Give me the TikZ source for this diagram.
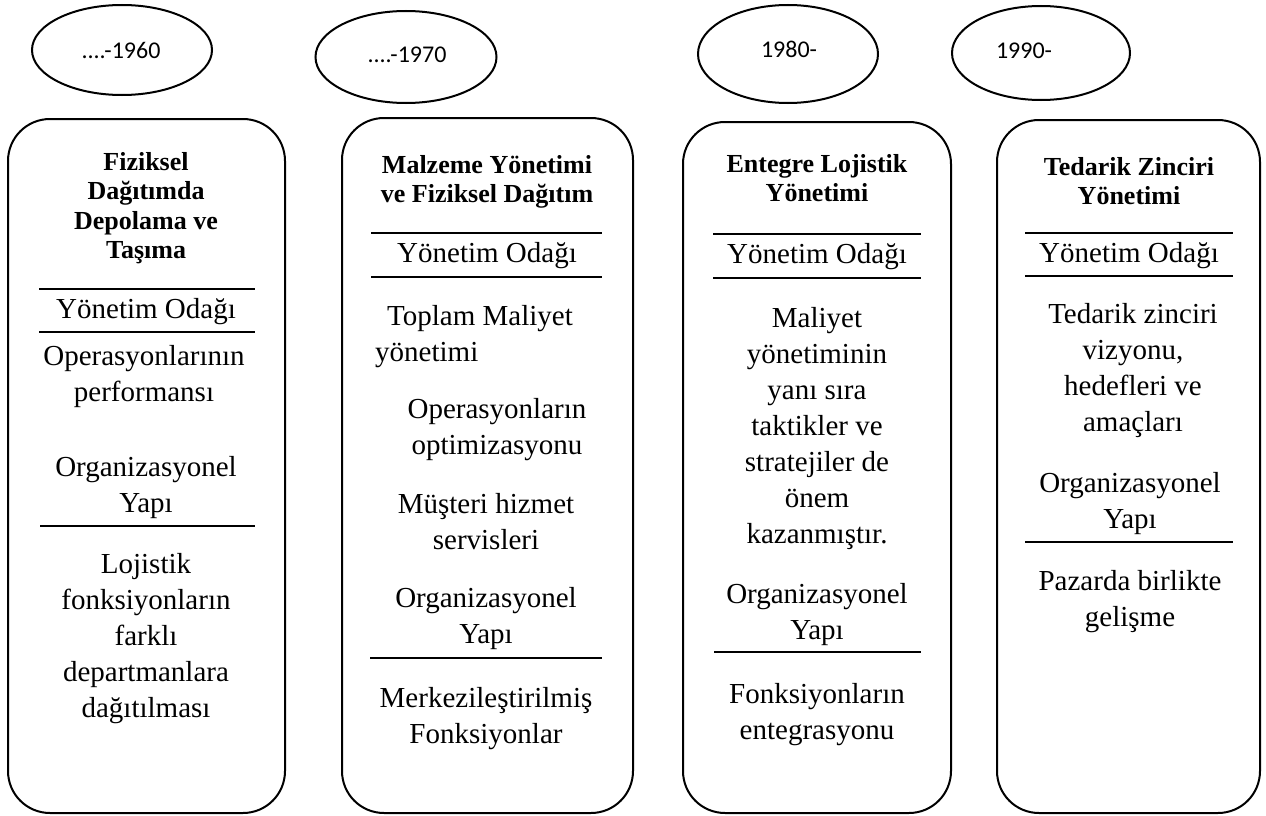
\documentclass[tikz,border=0pt]{standalone}
\usepackage{fontspec}
\setmainfont{Liberation Serif}
\newfontfamily\periodfont{Carlito}
\usetikzlibrary{shapes.geometric}
\begin{document}
\begin{tikzpicture}[x=1pt,y=-1pt,
  era/.style={ellipse, draw, line width=2pt, inner sep=0pt},
  eralabel/.style={inner sep=0pt, font=\periodfont\fontsize{24}{28}\selectfont},
  column/.style={draw, line width=2pt, rounded corners=42pt, inner sep=0pt},
  % multi-line nodes: the base anchor sits on the last line
  heading/.style={anchor=base, align=center, inner sep=0pt,
    font=\fontsize{26}{29.5}\selectfont\bfseries},
  body/.style={anchor=base, align=center, inner sep=0pt,
    font=\fontsize{29}{36}\selectfont},
  rule/.style={line width=2pt}]

\useasboundingbox[fill=white] (0,0) rectangle (1266,816);

% period ellipses
\node[era, minimum width=180pt, minimum height=90pt] (e1) at (122,50) {};
\node[era, minimum width=181pt, minimum height=92pt] (e2) at (406,57) {};
\node[era, minimum width=180pt, minimum height=98pt] (e3) at (788,54) {};
\node[era, minimum width=178pt, minimum height=94pt] (e4) at (1041,53) {};
\node[eralabel] (l1) at (121,50) {....-1960};
\node[eralabel] (l2) at (407,55) {....-1970};
\node[eralabel] (l3) at (789,49) {1980-};
\node[eralabel] (l4) at (1024,51) {1990-};

% column frames
\node[column, minimum width=277pt, minimum height=694pt] (c1) at (146.5,466) {};
\node[column, minimum width=291pt, minimum height=695pt] (c2) at (487.5,465.5) {};
\node[column, minimum width=268pt, minimum height=691pt] (c3) at (817,467.5) {};
\node[column, minimum width=263pt, minimum height=693pt] (c4) at (1128.5,466.5) {};

% column 1
\node[heading] (h1) at (146,258.5) {Fiziksel\\Dağıtımda\\Depolama ve\\Taşıma};
\draw[rule] (39,289) -- (255,289);
\node[body] (f1) at (146,318) {Yönetim Odağı};
\draw[rule] (39,332) -- (255,332);
\node[body] (a1) at (144,401) {Operasyonlarının\\performansı};
\node[body] (o1) at (146,512) {Organizasyonel\\Yapı};
\draw[rule] (40,526) -- (255,526);
\node[body] (s1) at (146,717) {Lojistik\\fonksiyonların\\farklı\\departmanlara\\dağıtılması};

% column 2
\node[heading] (h2) at (487,202.5) {Malzeme Yönetimi\\ve Fiziksel Dağıtım};
\draw[rule] (371,233) -- (602,233);
\node[body] (f2) at (487,262) {Yönetim Odağı};
\draw[rule] (371,277) -- (602,277);
\node[body, anchor=base west, align=left] (a2) at (375,361) {\hspace*{12pt}Toplam Maliyet\\yönetimi};
\node[body] (b2) at (497,454) {Operasyonların\\optimizasyonu};
\node[body] (m2) at (486,549) {Müşteri hizmet\\servisleri};
\node[body] (o2) at (486,643) {Organizasyonel\\Yapı};
\draw[rule] (370,658) -- (602,658);
\node[body] (s2) at (486,743) {Merkezileştirilmiş\\Fonksiyonlar};

% column 3
\node[heading] (h3) at (817,201.5) {Entegre Lojistik\\Yönetimi};
\draw[rule] (713,234) -- (921,234);
\node[body] (f3) at (817,263) {Yönetim Odağı};
\draw[rule] (713,278) -- (921,278);
\node[body] (a3) at (817,543) {Maliyet\\yönetiminin\\yanı sıra\\taktikler ve\\stratejiler de\\önem\\kazanmıştır.};
\node[body] (o3) at (817,639) {Organizasyonel\\Yapı};
\draw[rule] (714,652) -- (921,652);
\node[body] (s3) at (817,739) {Fonksiyonların\\entegrasyonu};

% column 4
\node[heading] (h4) at (1129,204.5) {Tedarik Zinciri\\Yönetimi};
\draw[rule] (1025,233) -- (1233,233);
\node[body] (f4) at (1129,262) {Yönetim Odağı};
\draw[rule] (1025,276) -- (1233,276);
\node[body] (a4) at (1133,431) {Tedarik zinciri\\vizyonu,\\hedefleri ve\\amaçları};
\node[body] (o4) at (1130,528) {Organizasyonel\\Yapı};
\draw[rule] (1025,542) -- (1233,542);
\node[body] (s4) at (1130,626) {Pazarda birlikte\\gelişme};

\end{tikzpicture}
\end{document}
